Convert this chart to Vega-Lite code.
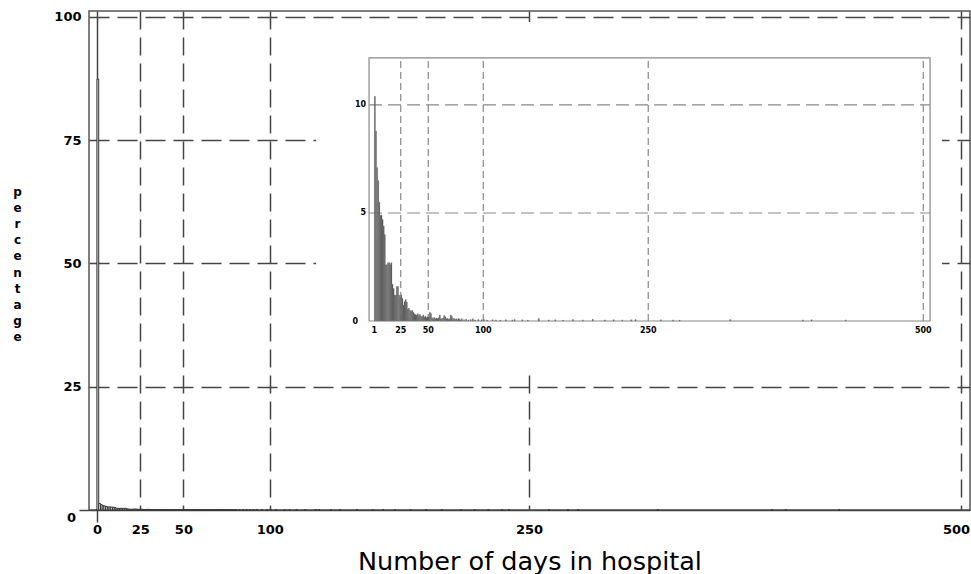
{
  "$schema": "https://vega.github.io/schema/vega-lite/v6.json",
  "width": 881,
  "height": 499,
  "autosize": {"type": "none"},
  "padding": {"left": 89, "top": 11, "right": 1, "bottom": 64},
  "background": "white",
  "config": {"view": {"stroke": "#555", "strokeWidth": 1.5}},
  "datasets": {
    "days": [
      {"day": 0, "end": 1, "main": 87.4, "inset": null},
      {"day": 1, "end": 2, "main": 1.31, "inset": 10.4},
      {"day": 2, "end": 3, "main": 1.11, "inset": 8.8},
      {"day": 3, "end": 4, "main": 0.89, "inset": 7.1},
      {"day": 4, "end": 5, "main": 0.82, "inset": 6.5},
      {"day": 5, "end": 6, "main": 0.69, "inset": 5.5},
      {"day": 6, "end": 7, "main": 0.62, "inset": 4.9},
      {"day": 7, "end": 8, "main": 0.62, "inset": 4.9},
      {"day": 8, "end": 9, "main": 0.59, "inset": 4.7},
      {"day": 9, "end": 10, "main": 0.55, "inset": 4.4},
      {"day": 10, "end": 11, "main": 0.5, "inset": 4.0},
      {"day": 11, "end": 12, "main": 0.33, "inset": 2.6},
      {"day": 12, "end": 13, "main": 0.33, "inset": 2.6},
      {"day": 13, "end": 14, "main": 0.34, "inset": 2.7},
      {"day": 14, "end": 15, "main": 0.34, "inset": 2.7},
      {"day": 15, "end": 16, "main": 0.33, "inset": 2.6},
      {"day": 16, "end": 17, "main": 0.34, "inset": 2.7},
      {"day": 17, "end": 18, "main": 0.21, "inset": 1.7},
      {"day": 18, "end": 19, "main": 0.19, "inset": 1.5},
      {"day": 19, "end": 20, "main": 0.15, "inset": 1.2},
      {"day": 20, "end": 21, "main": 0.15, "inset": 1.2},
      {"day": 21, "end": 22, "main": 0.2, "inset": 1.6},
      {"day": 22, "end": 23, "main": 0.2, "inset": 1.6},
      {"day": 23, "end": 24, "main": 0.15, "inset": 1.2},
      {"day": 24, "end": 25, "main": 0.14, "inset": 1.1},
      {"day": 25, "end": 26, "main": 0.15, "inset": 1.2},
      {"day": 26, "end": 27, "main": 0.13, "inset": 1.05},
      {"day": 27, "end": 28, "main": 0.09, "inset": 0.74},
      {"day": 28, "end": 29, "main": 0.11, "inset": 0.9},
      {"day": 29, "end": 30, "main": 0.13, "inset": 1.0},
      {"day": 30, "end": 31, "main": 0.11, "inset": 0.88},
      {"day": 31, "end": 32, "main": 0.07, "inset": 0.55},
      {"day": 32, "end": 33, "main": 0.08, "inset": 0.6},
      {"day": 33, "end": 34, "main": 0.06, "inset": 0.5},
      {"day": 34, "end": 35, "main": 0.06, "inset": 0.45},
      {"day": 35, "end": 36, "main": 0.06, "inset": 0.5},
      {"day": 36, "end": 37, "main": 0.05, "inset": 0.4},
      {"day": 37, "end": 38, "main": 0.04, "inset": 0.33},
      {"day": 38, "end": 39, "main": 0.04, "inset": 0.3},
      {"day": 39, "end": 40, "main": 0.04, "inset": 0.28},
      {"day": 40, "end": 41, "main": 0.04, "inset": 0.33},
      {"day": 41, "end": 42, "main": 0.03, "inset": 0.25},
      {"day": 42, "end": 43, "main": 0.04, "inset": 0.3},
      {"day": 43, "end": 44, "main": 0.03, "inset": 0.22},
      {"day": 44, "end": 45, "main": 0.03, "inset": 0.2},
      {"day": 45, "end": 46, "main": 0.04, "inset": 0.28},
      {"day": 46, "end": 47, "main": 0.02, "inset": 0.18},
      {"day": 47, "end": 48, "main": 0.03, "inset": 0.22},
      {"day": 48, "end": 49, "main": 0.02, "inset": 0.15},
      {"day": 49, "end": 50, "main": 0.03, "inset": 0.2},
      {"day": 50, "end": 51, "main": 0.02, "inset": 0.18},
      {"day": 51, "end": 52, "main": 0.05, "inset": 0.4},
      {"day": 52, "end": 53, "main": 0.04, "inset": 0.35},
      {"day": 53, "end": 54, "main": 0.02, "inset": 0.15},
      {"day": 54, "end": 55, "main": 0.02, "inset": 0.12},
      {"day": 55, "end": 56, "main": 0.02, "inset": 0.16},
      {"day": 56, "end": 57, "main": 0.01, "inset": 0.1},
      {"day": 57, "end": 58, "main": 0.02, "inset": 0.14},
      {"day": 58, "end": 59, "main": 0.02, "inset": 0.12},
      {"day": 59, "end": 60, "main": 0.02, "inset": 0.15},
      {"day": 60, "end": 61, "main": 0.04, "inset": 0.28},
      {"day": 61, "end": 62, "main": 0.02, "inset": 0.12},
      {"day": 62, "end": 63, "main": 0.01, "inset": 0.1},
      {"day": 63, "end": 64, "main": 0.02, "inset": 0.14},
      {"day": 64, "end": 65, "main": 0.03, "inset": 0.25},
      {"day": 65, "end": 66, "main": 0.03, "inset": 0.2},
      {"day": 66, "end": 67, "main": 0.01, "inset": 0.1},
      {"day": 67, "end": 68, "main": 0.02, "inset": 0.12},
      {"day": 68, "end": 69, "main": 0.01, "inset": 0.08},
      {"day": 69, "end": 70, "main": 0.01, "inset": 0.1},
      {"day": 70, "end": 71, "main": 0.04, "inset": 0.28},
      {"day": 71, "end": 72, "main": 0.03, "inset": 0.22},
      {"day": 72, "end": 73, "main": 0.01, "inset": 0.1},
      {"day": 73, "end": 74, "main": 0.02, "inset": 0.12},
      {"day": 74, "end": 75, "main": 0.01, "inset": 0.08},
      {"day": 75, "end": 76, "main": 0.01, "inset": 0.1},
      {"day": 76, "end": 77, "main": 0.01, "inset": 0.06},
      {"day": 77, "end": 78, "main": 0.02, "inset": 0.12},
      {"day": 78, "end": 79, "main": 0.01, "inset": 0.08},
      {"day": 79, "end": 80, "main": 0.01, "inset": 0.05},
      {"day": 80, "end": 81, "main": 0.01, "inset": 0.1},
      {"day": 82, "end": 83, "main": 0.01, "inset": 0.06},
      {"day": 84, "end": 85, "main": 0.01, "inset": 0.08},
      {"day": 86, "end": 87, "main": 0.01, "inset": 0.05},
      {"day": 88, "end": 89, "main": 0.01, "inset": 0.07},
      {"day": 90, "end": 91, "main": 0.01, "inset": 0.1},
      {"day": 92, "end": 93, "main": 0.01, "inset": 0.05},
      {"day": 95, "end": 96, "main": 0.01, "inset": 0.07},
      {"day": 98, "end": 99, "main": 0.01, "inset": 0.06},
      {"day": 100, "end": 101, "main": 0.01, "inset": 0.08},
      {"day": 103, "end": 104, "main": 0.01, "inset": 0.05},
      {"day": 108, "end": 109, "main": 0.01, "inset": 0.06},
      {"day": 111, "end": 112, "main": 0.01, "inset": 0.05},
      {"day": 115, "end": 116, "main": 0.01, "inset": 0.04},
      {"day": 120, "end": 121, "main": 0.01, "inset": 0.06},
      {"day": 126, "end": 127, "main": 0.01, "inset": 0.05},
      {"day": 128, "end": 129, "main": 0.01, "inset": 0.07},
      {"day": 135, "end": 136, "main": 0.01, "inset": 0.06},
      {"day": 140, "end": 141, "main": 0.01, "inset": 0.04},
      {"day": 150, "end": 151, "main": 0.02, "inset": 0.12},
      {"day": 159, "end": 160, "main": 0.01, "inset": 0.05},
      {"day": 165, "end": 166, "main": 0.01, "inset": 0.06},
      {"day": 172, "end": 173, "main": 0.01, "inset": 0.04},
      {"day": 181, "end": 182, "main": 0.01, "inset": 0.07},
      {"day": 190, "end": 191, "main": 0.01, "inset": 0.05},
      {"day": 199, "end": 200, "main": 0.01, "inset": 0.08},
      {"day": 210, "end": 211, "main": 0.01, "inset": 0.05},
      {"day": 218, "end": 219, "main": 0.01, "inset": 0.06},
      {"day": 226, "end": 227, "main": 0.01, "inset": 0.05},
      {"day": 234, "end": 235, "main": 0.01, "inset": 0.06},
      {"day": 238, "end": 239, "main": 0.01, "inset": 0.07},
      {"day": 261, "end": 262, "main": 0.01, "inset": 0.06},
      {"day": 272, "end": 273, "main": 0.01, "inset": 0.05},
      {"day": 278, "end": 279, "main": 0.01, "inset": 0.04},
      {"day": 324, "end": 325, "main": 0.01, "inset": 0.07},
      {"day": 390, "end": 391, "main": 0.01, "inset": 0.05},
      {"day": 398, "end": 399, "main": 0.01, "inset": 0.06},
      {"day": 429, "end": 430, "main": 0.01, "inset": 0.05}
    ],
    "insetGridX": [{"g": 25}, {"g": 50}, {"g": 100}, {"g": 250}, {"g": 500}],
    "insetGridY": [{"g": 5}, {"g": 10}],
    "insetTicksX": [{"v": 1}, {"v": 25}, {"v": 50}, {"v": 100}, {"v": 250}, {"v": 500}],
    "insetTicksY": [{"v": 0}, {"v": 5}, {"v": 10}]
  },
  "layer": [
    {
      "data": {"name": "days"},
      "mark": {"type": "bar", "fill": "white", "stroke": "#333", "strokeWidth": 1},
      "encoding": {
        "x": {
          "field": "day", "type": "quantitative",
          "scale": {"domain": [-4.63, 505.2], "nice": false, "zero": false},
          "axis": {
            "values": [0, 25, 50, 100, 250, 500],
            "format": "d",
            "grid": true, "gridColor": "#444", "gridWidth": 1.5,
            "gridDash": {"condition": {"test": "datum.value === 0", "value": []}, "value": [18, 8]},
            "domain": false,
            "ticks": true, "tickSize": 12, "tickWidth": 1.5,
            "tickColor": {"condition": {"test": "datum.value === 0", "value": "#444"}, "value": "transparent"},
            "labelFont": "DejaVu Sans", "labelFontWeight": "bold", "labelFontSize": 13,
            "labelColor": "black", "labelPadding": 1, "labelFlush": false, "labelOverlap": false,
            "labelOffset": {"condition": {"test": "datum.value === 500", "value": -5}, "value": 0},
            "title": "Number of days in hospital",
            "titleFont": "DejaVu Sans", "titleFontSize": 25.5, "titleFontWeight": "normal",
            "titleColor": "black", "titleY": 59, "titleBaseline": "alphabetic"
          }
        },
        "x2": {"field": "end"},
        "y": {
          "field": "main", "type": "quantitative",
          "scale": {"domain": [0, 101.2], "nice": false},
          "axis": {
            "values": [0, 25, 50, 75, 100],
            "grid": true, "gridColor": "#444", "gridWidth": 1.5,
            "gridDash": {"condition": {"test": "datum.value === 0", "value": []}, "value": [20, 8]},
            "domain": false,
            "ticks": true, "tickSize": 10, "tickWidth": 1.5,
            "tickColor": {"condition": {"test": "datum.value === 0", "value": "#444"}, "value": "transparent"},
            "labelFont": "DejaVu Sans", "labelFontWeight": "bold", "labelFontSize": 13,
            "labelColor": "black",
            "labelPadding": {"condition": {"test": "datum.value === 0", "value": 3.5}, "value": -2},
            "labelOffset": {"condition": {"test": "datum.value === 0", "value": 7}, "value": 0},
            "labelFlush": false, "labelOverlap": false,
            "title": ["p", "e", "r", "c", "e", "n", "t", "a", "g", "e"],
            "titleAngle": 0, "titleX": -72, "titleY": 184,
            "titleAlign": "center", "titleBaseline": "alphabetic", "titleLineHeight": 16.2,
            "titleFont": "DejaVu Sans", "titleFontWeight": "bold", "titleFontSize": 12, "titleColor": "black"
          }
        },
        "y2": {"datum": 0}
      }
    },
    {
      "layer": [
        {
          "data": {"values": [{}]},
          "mark": {"type": "rect", "fill": "white", "strokeWidth": 0},
          "encoding": {
            "x": {"datum": -52, "type": "quantitative", "scale": {"domain": [-258.4, 542.5], "nice": false, "zero": false}, "axis": null},
            "x2": {"datum": 517},
            "y": {"datum": -2.5, "type": "quantitative", "scale": {"domain": [-8.75, 14.35], "nice": false, "zero": false}, "axis": null},
            "y2": {"datum": 13.84}
          }
        },
        {
          "data": {"values": [{}]},
          "mark": {"type": "rect", "fill": "white", "fillOpacity": 0, "stroke": "#888", "strokeWidth": 1.2},
          "encoding": {
            "x": {"datum": -3.8, "type": "quantitative", "scale": {"domain": [-258.4, 542.5], "nice": false, "zero": false}, "axis": null},
            "x2": {"datum": 506.2},
            "y": {"datum": 0, "type": "quantitative", "scale": {"domain": [-8.75, 14.35], "nice": false, "zero": false}, "axis": null},
            "y2": {"datum": 12.18}
          }
        },
        {
          "data": {"name": "insetGridX"},
          "mark": {"type": "rule", "stroke": "#888", "strokeWidth": 1.2, "strokeDash": [7, 4]},
          "encoding": {
            "x": {"field": "g", "type": "quantitative", "scale": {"domain": [-258.4, 542.5], "nice": false, "zero": false}, "axis": null},
            "y": {"datum": 0, "type": "quantitative", "scale": {"domain": [-8.75, 14.35], "nice": false, "zero": false}, "axis": null},
            "y2": {"datum": 12.18}
          }
        },
        {
          "data": {"name": "insetGridY"},
          "mark": {"type": "rule", "stroke": "#888", "strokeWidth": 1.2, "strokeDash": [13, 6]},
          "encoding": {
            "y": {"field": "g", "type": "quantitative", "scale": {"domain": [-8.75, 14.35], "nice": false, "zero": false}, "axis": null},
            "x": {"datum": -3.8, "type": "quantitative", "scale": {"domain": [-258.4, 542.5], "nice": false, "zero": false}, "axis": null},
            "x2": {"datum": 506.2}
          }
        },
        {
          "data": {"name": "days"},
          "transform": [{"filter": "datum.day >= 1"}],
          "mark": {"type": "bar", "fill": "#333", "stroke": "#999", "strokeWidth": 0.4},
          "encoding": {
            "x": {"field": "day", "type": "quantitative", "scale": {"domain": [-258.4, 542.5], "nice": false, "zero": false}, "axis": null},
            "x2": {"field": "end"},
            "y": {"field": "inset", "type": "quantitative", "scale": {"domain": [-8.75, 14.35], "nice": false, "zero": false}, "axis": null},
            "y2": {"datum": 0}
          }
        },
        {
          "data": {"name": "insetTicksX"},
          "mark": {"type": "text", "font": "DejaVu Sans", "fontWeight": "bold", "fontSize": 8, "baseline": "middle", "align": "center", "dy": 10, "color": "black"},
          "encoding": {
            "x": {"field": "v", "type": "quantitative", "scale": {"domain": [-258.4, 542.5], "nice": false, "zero": false}, "axis": null},
            "y": {"datum": 0, "type": "quantitative", "scale": {"domain": [-8.75, 14.35], "nice": false, "zero": false}, "axis": null},
            "text": {"field": "v", "type": "quantitative", "format": "d"}
          }
        },
        {
          "data": {"name": "insetTicksY"},
          "transform": [{"filter": "datum.v > 0"}],
          "mark": {"type": "text", "font": "DejaVu Sans", "fontWeight": "bold", "fontSize": 8, "baseline": "middle", "align": "right", "dx": -3, "color": "black"},
          "encoding": {
            "x": {"datum": -3.8, "type": "quantitative", "scale": {"domain": [-258.4, 542.5], "nice": false, "zero": false}, "axis": null},
            "y": {"field": "v", "type": "quantitative", "scale": {"domain": [-8.75, 14.35], "nice": false, "zero": false}, "axis": null},
            "text": {"field": "v", "type": "quantitative", "format": "d"}
          }
        },
        {
          "data": {"name": "insetTicksY"},
          "transform": [{"filter": "datum.v === 0"}],
          "mark": {"type": "text", "font": "DejaVu Sans", "fontWeight": "bold", "fontSize": 8, "baseline": "middle", "align": "right", "dx": -11, "dy": 1, "color": "black"},
          "encoding": {
            "x": {"datum": -3.8, "type": "quantitative", "scale": {"domain": [-258.4, 542.5], "nice": false, "zero": false}, "axis": null},
            "y": {"field": "v", "type": "quantitative", "scale": {"domain": [-8.75, 14.35], "nice": false, "zero": false}, "axis": null},
            "text": {"field": "v", "type": "quantitative", "format": "d"}
          }
        }
      ]
    }
  ],
  "resolve": {
    "scale": {"x": "independent", "y": "independent"},
    "axis": {"x": "independent", "y": "independent"}
  }
}
